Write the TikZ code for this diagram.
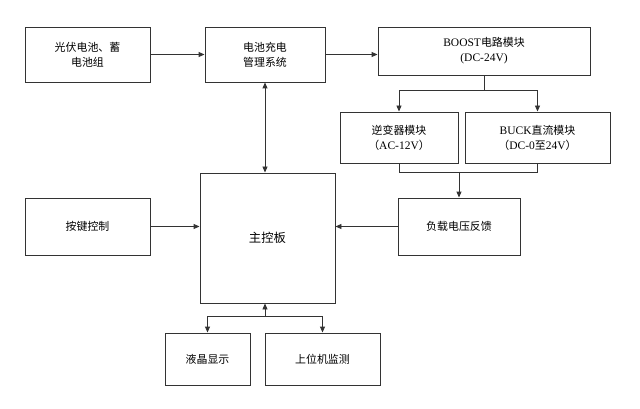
\documentclass[tikz,border=0pt]{standalone}
\usepackage{fontspec}
\setmainfont{Liberation Serif}
\newfontfamily\cjk{Noto Sans CJK SC}[Scale=0.95]
\usetikzlibrary{arrows.meta}
\begin{document}
\begin{tikzpicture}[x=1pt,y=-1pt,
  box/.style={draw=black!80,line width=0.9pt,align=center,font=\fontsize{11.5}{15}\selectfont,inner sep=0pt},
  ar/.style={draw=black!80,line width=0.9pt,-{Triangle[length=6pt,width=5pt]}},
  ln/.style={draw=black!80,line width=0.9pt}]
\useasboundingbox[fill=white] (0,0) rectangle (640,409);
\node[box,minimum width=125,minimum height=55] (A) at (87.5,54.5) {{\cjk 光伏电池、蓄}\\{\cjk 电池组}};
\node[box,minimum width=120,minimum height=55] (B) at (265,54.5) {{\cjk 电池充电}\\{\cjk 管理系统}};
\node[box,minimum width=212,minimum height=48] (C) at (484,51) {BOOST{\cjk 电路模块}\\(DC-24V)};
\node[box,minimum width=118,minimum height=51] (D) at (399,137.5) {{\cjk 逆变器模块}\\{\cjk （}AC-12V{\cjk ）}};
\node[box,minimum width=145,minimum height=51] (E) at (537.5,137.5) {BUCK{\cjk 直流模块}\\{\cjk （}DC-0{\cjk 至}24V{\cjk ）}};
\node[box,minimum width=135,minimum height=130,font=\cjk\fontsize{13}{15}\selectfont] (F) at (267.5,238) {主控板};
\node[box,minimum width=125,minimum height=57,font=\cjk\fontsize{11.5}{15}\selectfont] (G) at (87.5,226.5) {按键控制};
\node[box,minimum width=122,minimum height=57,font=\cjk\fontsize{11.5}{15}\selectfont] (H) at (459,226.5) {负载电压反馈};
\node[box,minimum width=85,minimum height=52,font=\cjk\fontsize{11.5}{15}\selectfont] (I) at (207.5,359) {液晶显示};
\node[box,minimum width=115,minimum height=52,font=\cjk\fontsize{11.5}{15}\selectfont] (J) at (322.5,359) {上位机监测};
\coordinate (c1) at (484,90);
\coordinate (j1) at (459,172);
\coordinate (f1) at (265,316);
\draw[ar] (A) -- (B);
\draw[ar] (B.east) -- (C.west |- B.east);
\draw[ln] (C.south) -- (c1);
\draw[ar] (c1) -| (D.north);
\draw[ar] (c1) -| (E.north);
\draw[ln] (D.south) |- (j1);
\draw[ln] (E.south) |- (j1);
\draw[ar] (j1) -- (H.north);
\draw[ar] (H.west) -- (F.east |- H.west);
\draw[ar] (G) -- (F.west |- G);
\draw[ar,{Triangle[length=6pt,width=5pt]}-{Triangle[length=6pt,width=5pt]}] (B.south) -- (F.north -| B.south);
\draw[ar] (f1) -- (F.south -| f1);
\draw[ar] (f1) -| (I.north);
\draw[ar] (f1) -| (J.north);
\end{tikzpicture}
\end{document}
